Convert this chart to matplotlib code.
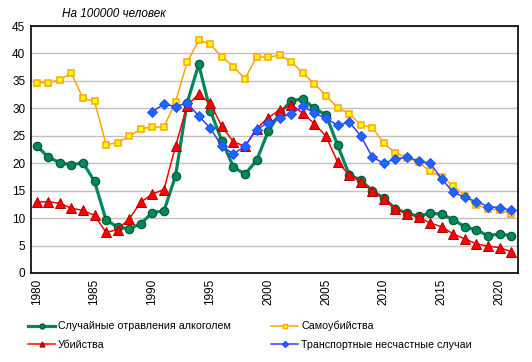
import matplotlib
matplotlib.use("Agg")
import matplotlib.pyplot as plt
from matplotlib.lines import Line2D

years = list(range(1980, 2022))

alcohol = [23.2, 21.1, 20.1, 19.7, 20.1, 16.7, 9.6, 8.4, 8.0, 9.0,
           11.0, 11.3, 17.7, 31.0, 38.0, 29.6, 24.1, 19.3, 18.0, 20.5,
           25.8, 29.1, 31.4, 31.7, 30.0, 28.8, 23.3, 17.9, 16.9, 15.0,
           13.6, 11.7, 10.9, 10.3, 10.9, 10.7, 9.7, 8.4, 7.8, 6.8,
           7.1, 6.8]

suicide = [34.7, 34.7, 35.2, 36.4, 31.8, 31.3, 23.4, 23.7, 24.9, 26.3,
           26.6, 26.6, 31.2, 38.4, 42.4, 41.7, 39.4, 37.6, 35.4, 39.4,
           39.3, 39.7, 38.5, 36.4, 34.5, 32.3, 30.1, 29.0, 27.0, 26.5,
           23.6, 21.9, 21.0, 20.2, 18.5, 17.5, 15.9, 14.0, 12.4, 11.7,
           11.4, 10.8]

homicide = [12.9, 13.0, 12.7, 11.8, 11.4, 10.5, 7.4, 7.9, 9.9, 12.9,
            14.4, 15.2, 23.1, 30.5, 32.6, 30.9, 26.7, 23.9, 23.1, 26.3,
            28.3, 29.7, 30.7, 29.1, 27.2, 24.9, 20.2, 17.9, 16.6, 15.0,
            13.5, 11.7, 10.8, 10.2, 9.1, 8.4, 7.1, 6.2, 5.3, 4.9,
            4.6, 3.9]

transport_years = list(range(1990, 2022))
transport = [29.4, 30.8, 30.3, 31.0, 28.6, 26.4, 23.1, 21.7, 23.1, 26.1,
             27.4, 28.3, 29.0, 30.4, 29.1, 28.2, 26.9, 27.5, 25.0, 21.1,
             20.0, 20.8, 21.1, 20.4, 20.0, 17.1, 14.7, 13.8, 13.0, 12.1,
             11.9, 11.4]

labels = ["Случайные отравления алкоголем", "Самоубийства",
          "Убийства", "Транспортные несчастные случаи"]

plt.rcParams["font.family"] = ["Liberation Sans", "DejaVu Sans"]

fig = plt.figure(figsize=(5.32, 3.62), dpi=100)
ax = fig.add_axes([0.058, 0.246, 0.916, 0.682])

ax.plot(years, suicide, color="#ffa500", lw=1.1, marker="s", ms=5,
        mfc="#ffff00", mec="#ffa500", mew=1.1, zorder=3)
ax.plot(years, alcohol, color="#00875a", lw=2.3, marker="o", ms=6,
        mfc="#00875a", mec="#005c3a", mew=0.9, zorder=4)
ax.plot(years, homicide, color="#ff0000", lw=1.1, marker="^", ms=6.5,
        mfc="#ff0000", mec="#b00000", mew=0.7, zorder=5)
ax.plot(transport_years, transport, color="#3a3aff", lw=1.1, marker="D", ms=5,
        mfc="#1e64ff", mec="#1e50ff", mew=0.7, zorder=6)

ax.set_xlim(1979.5, 2021.6)
ax.set_ylim(0, 45)
ax.set_yticks(range(0, 46, 5))
ax.set_xticks(range(1980, 2021, 5))
ax.set_xticklabels([str(y) for y in range(1980, 2021, 5)], rotation=90)
ax.tick_params(length=0, labelsize=8.5, pad=4)
ax.yaxis.grid(True, color="#c0c0c0", lw=1)
ax.set_axisbelow(True)
for s in ax.spines.values():
    s.set_linewidth(1.2)
    s.set_color("black")

fig.text(0.117, 0.953, "На 100000 человек", style="italic", fontsize=8.5)

h_alc = Line2D([], [], color="#00875a", lw=2.3, marker="o", ms=3.5, mfc="#00875a", mec="#005c3a")
h_sui = Line2D([], [], color="#ffa500", lw=1.1, marker="s", ms=3.5, mfc="#ffff00", mec="#ffa500")
h_hom = Line2D([], [], color="#ff0000", lw=1.1, marker="^", ms=3.5, mfc="#ff0000", mec="#b00000")
h_tra = Line2D([], [], color="#3a3aff", lw=1.1, marker="D", ms=3, mfc="#1e64ff", mec="#1e50ff")
# column-wise fill: left column first, then right column
fig.legend([h_alc, h_hom, h_sui, h_tra],
           [labels[0], labels[2], labels[1], labels[3]],
           ncol=2, loc="upper left", bbox_to_anchor=(0.042, 0.128),
           frameon=False, fontsize=7.7, handlelength=2.6, handletextpad=0.25,
           columnspacing=3.7, labelspacing=0.8, borderpad=0)

fig.savefig("out.png", dpi=100)
